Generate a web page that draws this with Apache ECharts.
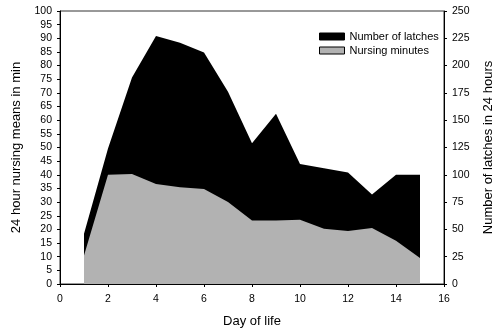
<!DOCTYPE html>
<html>
<head>
<meta charset="utf-8">
<script src="https://cdn.jsdelivr.net/npm/echarts@6/dist/echarts.min.js"></script>
<style>
html,body{margin:0;padding:0;background:#fff;}
#chart{width:503px;height:334px;}
</style>
</head>
<body>
<div id="chart"></div>
<script>
const days = [1,2,3,4,5,6,7,8,9,10,11,12,13,14,15];
const latches = [46,124,189,227,221,212,176,129,156,110,106,102,82,100,100];
const nursingMinutes = [10.4,40.0,40.3,36.6,35.4,34.8,30.0,23.3,23.3,23.5,20.2,19.4,20.5,15.8,9.5];
const seriesNames = ['Number of latches','Nursing minutes'];
const xTitle = 'Day of life';
const yLeftTitle = '24 hour nursing means in min';
const yRightTitle = 'Number of latches in 24 hours';

const font = 'Liberation Sans, Arial, sans-serif';
const chart = echarts.init(document.getElementById('chart'), null, {renderer:'canvas'});
const axisCommon = {
  axisLine:{show:true, lineStyle:{color:'#000', width:1}},
  axisTick:{show:true, inside:false, length:3, lineStyle:{color:'#000'}},
  splitLine:{show:false},
  nameTextStyle:{fontFamily:font, fontSize:13, color:'#000'}
};
chart.setOption({
  animation:false,
  textStyle:{fontFamily:font},
  grid:{left:60, right:54, top:11, bottom:50, show:true, borderColor:'#333', borderWidth:1, backgroundColor:'transparent'},
  legend:{
    orient:'vertical', left:314, top:26, itemWidth:25, itemHeight:7, itemGap:3,
    textStyle:{fontFamily:font, fontSize:11, color:'#000'},
    data:[
      {name:seriesNames[0], icon:'rect', itemStyle:{color:'#000', borderColor:'#000', borderWidth:1}},
      {name:seriesNames[1], icon:'rect', itemStyle:{color:'#b2b2b2', borderColor:'#000', borderWidth:1}}
    ]
  },
  xAxis:Object.assign({}, axisCommon, {
    type:'value', min:0, max:16, interval:2,
    name:xTitle, nameLocation:'middle', nameGap:31,
    axisLabel:{fontFamily:font, fontSize:10.5, color:'#000', margin:10}
  }),
  yAxis:[
    Object.assign({}, axisCommon, {
      type:'value', min:0, max:100, interval:5, position:'left',
      name:yLeftTitle, nameLocation:'middle', nameRotate:90, nameGap:37,
      axisLabel:{fontFamily:font, fontSize:10.5, color:'#000', margin:8}
    }),
    Object.assign({}, axisCommon, {
      type:'value', min:0, max:250, interval:25, position:'right',
      name:yRightTitle, nameLocation:'middle', nameRotate:90, nameGap:38,
      axisLabel:{fontFamily:font, fontSize:10.5, color:'#000', margin:8}
    })
  ],
  series:[
    {
      name:seriesNames[0], type:'line', yAxisIndex:1,
      data:days.map((d,i)=>[d, latches[i]]),
      symbol:'none', lineStyle:{width:0}, itemStyle:{color:'#000'},
      areaStyle:{color:'#000', opacity:1}
    },
    {
      name:seriesNames[1], type:'line', yAxisIndex:0,
      data:days.map((d,i)=>[d, nursingMinutes[i]]),
      symbol:'none', lineStyle:{width:0}, itemStyle:{color:'#b2b2b2'},
      areaStyle:{color:'#b2b2b2', opacity:1}
    }
  ]
});
</script>
</body>
</html>
